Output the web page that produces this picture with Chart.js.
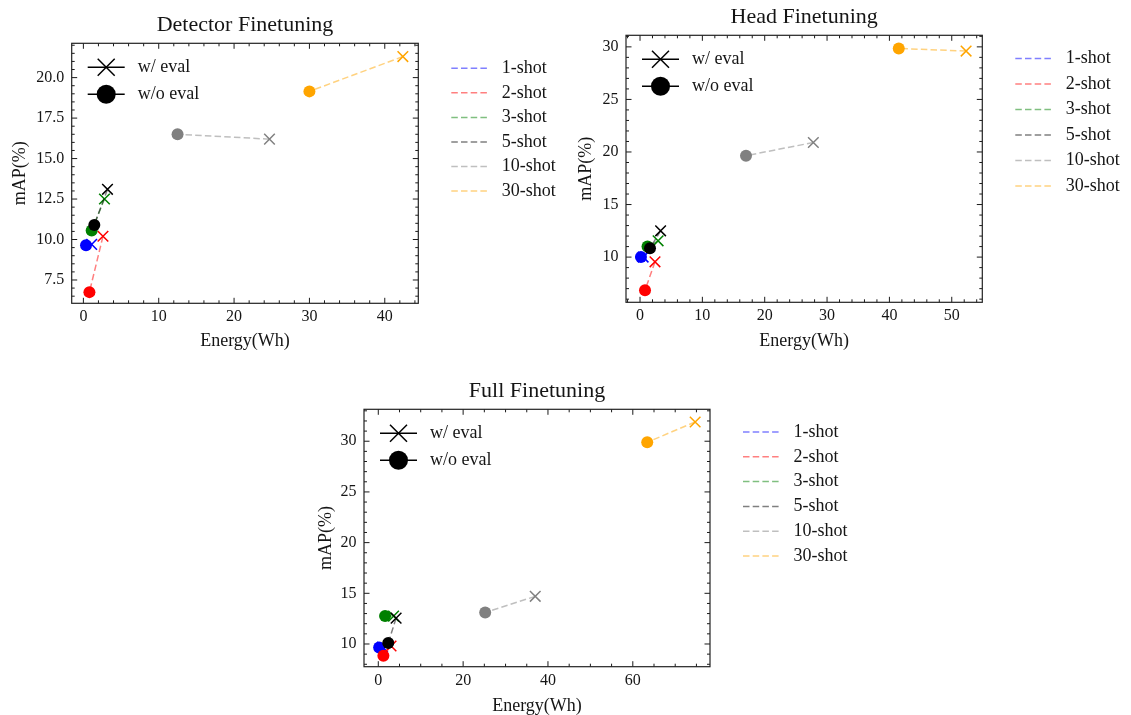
<!DOCTYPE html>
<html>
<head>
<meta charset="utf-8">
<script src="https://cdn.jsdelivr.net/npm/chart.js@4.4.1/dist/chart.umd.min.js"></script>
<style>
  html, body { margin: 0; padding: 0; background: #ffffff; overflow: hidden; width: 1131px; height: 715px; }
  canvas { position: absolute; }
</style>
</head>
<body>
<canvas id="c1" width="570" height="352" style="left:0px;top:0px;"></canvas>
<canvas id="c2" width="565" height="360" style="left:566px;top:-8px;"></canvas>
<canvas id="c3" width="574" height="351" style="left:306px;top:366px;"></canvas>
<script>
// ---------------- data ----------------
const shotLabels = ['1-shot', '2-shot', '3-shot', '5-shot', '10-shot', '30-shot'];
const shotColors = ['#0000ff', '#ff0000', '#008000', '#000000', '#808080', '#ffa500'];
const markerLabels = ['w/ eval', 'w/o eval'];

// Detector Finetuning
const detEvalEnergy   = [1.1, 2.6, 2.8, 3.2, 24.7, 42.4];
const detEvalMap      = [9.7, 10.2, 12.5, 13.1, 16.2, 21.3];
const detNoEvalEnergy = [0.35, 0.8, 1.1, 1.45, 12.5, 30.0];
const detNoEvalMap    = [9.65, 6.75, 10.55, 10.9, 16.5, 19.15];

// Head Finetuning
const headEvalEnergy   = [0.5, 2.4, 2.9, 3.3, 27.8, 52.3];
const headEvalMap      = [10.0, 9.55, 11.55, 12.5, 20.9, 29.6];
const headNoEvalEnergy = [0.15, 0.8, 1.2, 1.6, 17.0, 41.5];
const headNoEvalMap    = [10.0, 6.85, 11.0, 10.85, 19.65, 29.85];

// Full Finetuning
const fullEvalEnergy   = [1.0, 3.0, 3.6, 4.2, 37.0, 74.7];
const fullEvalMap      = [9.7, 9.8, 12.75, 12.55, 14.7, 31.9];
const fullNoEvalEnergy = [0.2, 1.2, 1.6, 2.35, 25.2, 63.4];
const fullNoEvalMap    = [9.65, 8.85, 12.75, 10.1, 13.1, 29.9];

// axis ticks
const detXStep = 10, detYStep = 2.5, detXMinor = 2, detYMinor = 0.5;
const headXStep = 10, headYStep = 5, headXMinor = 2, headYMinor = 1;
const fullXStep = 20, fullYStep = 5, fullXMinor = 5, fullYMinor = 1;

// ---------------- styling ----------------
const FONT = '"Liberation Serif", "Times New Roman", serif';
const TXT = '#151515';
const DASH = [6.5, 3.2];

function withAlpha(hex, a) {
  const r = parseInt(hex.slice(1, 3), 16), g = parseInt(hex.slice(3, 5), 16), b = parseInt(hex.slice(5, 7), 16);
  return `rgba(${r},${g},${b},${a})`;
}

const framePlugin = {
  id: 'frame',
  afterDraw(chart, args, opts) {
    const ctx = chart.ctx;
    const a = chart.chartArea;
    const xs = chart.scales.x, ys = chart.scales.y;
    ctx.save();
    // ticks (inward, all four sides)
    ctx.strokeStyle = '#1a1a1a';
    ctx.lineWidth = 1;
    const minorVals = (scale, step) => {
      const out = [];
      const k0 = Math.ceil(scale.min / step - 1e-9), k1 = Math.floor(scale.max / step + 1e-9);
      for (let k = k0; k <= k1; k++) out.push(+(k * step).toFixed(6));
      return out;
    };
    const majX = xs.ticks.map(t => t.value), majY = ys.ticks.map(t => t.value);
    const drawX = (v, len) => {
      const p = xs.getPixelForValue(v);
      ctx.beginPath();
      ctx.moveTo(p, a.bottom); ctx.lineTo(p, a.bottom - len);
      ctx.moveTo(p, a.top); ctx.lineTo(p, a.top + len);
      ctx.stroke();
    };
    const drawY = (v, len) => {
      const p = ys.getPixelForValue(v);
      ctx.beginPath();
      ctx.moveTo(a.left, p); ctx.lineTo(a.left + len, p);
      ctx.moveTo(a.right, p); ctx.lineTo(a.right - len, p);
      ctx.stroke();
    };
    minorVals(xs, opts.minorX).forEach(v => { if (!majX.some(m => Math.abs(m - v) < 1e-6)) drawX(v, 3); });
    minorVals(ys, opts.minorY).forEach(v => { if (!majY.some(m => Math.abs(m - v) < 1e-6)) drawY(v, 3); });
    majX.forEach(v => drawX(v, 5.5));
    majY.forEach(v => drawY(v, 5.5));
    // frame
    ctx.strokeStyle = '#222222';
    ctx.lineWidth = 1.2;
    ctx.strokeRect(a.left, a.top, a.right - a.left, a.bottom - a.top);

    // inner legend (markers)
    const lx = a.left + 16;
    const rows = [a.top + 24, a.top + 51];
    ctx.strokeStyle = '#000';
    ctx.fillStyle = '#000';
    ctx.lineWidth = 1.5;
    rows.forEach((ry, i) => {
      ctx.beginPath(); ctx.moveTo(lx, ry); ctx.lineTo(lx + 37, ry); ctx.stroke();
      const cx = lx + 18.5;
      if (i === 0) {
        const h = 8.5;
        ctx.beginPath();
        ctx.moveTo(cx - h, ry - h); ctx.lineTo(cx + h, ry + h);
        ctx.moveTo(cx - h, ry + h); ctx.lineTo(cx + h, ry - h);
        ctx.stroke();
      } else {
        ctx.beginPath(); ctx.arc(cx, ry, 9.5, 0, Math.PI * 2); ctx.fill();
      }
    });
    ctx.fillStyle = TXT;
    ctx.font = '18px ' + FONT;
    ctx.textBaseline = 'middle';
    ctx.textAlign = 'left';
    rows.forEach((ry, i) => ctx.fillText(markerLabels[i], a.left + 66, ry));

    // outer legend (shots)
    const ox = a.right + 33;
    shotLabels.forEach((s, i) => {
      const yy = a.top + opts.legendFirst + i * opts.legendGap;
      ctx.strokeStyle = withAlpha(shotColors[i], 0.5);
      ctx.lineWidth = 1.5;
      ctx.setLineDash(DASH);
      ctx.beginPath(); ctx.moveTo(ox, yy); ctx.lineTo(ox + 36, yy); ctx.stroke();
      ctx.setLineDash([]);
      ctx.fillStyle = TXT;
      ctx.fillText(s, ox + 50.5, yy);
    });
    ctx.restore();
  }
};

function makeChart(id, p) {
  const datasets = shotLabels.map((s, i) => ({
    label: s,
    data: [{ x: p.evalX[i], y: p.evalY[i] }, { x: p.noEvalX[i], y: p.noEvalY[i] }],
    showLine: true,
    borderColor: withAlpha(shotColors[i], 0.5),
    borderWidth: 1.5,
    borderDash: DASH,
    pointStyle: ['crossRot', 'circle'],
    pointRadius: [7.5, 6],
    pointBorderWidth: [1.5, 0],
    pointBorderColor: shotColors[i],
    pointBackgroundColor: shotColors[i],
    order: -i
  }));
  const tickFont = { family: FONT, size: 16 };
  const labelFont = { family: FONT, size: 18 };
  return new Chart(document.getElementById(id), {
    type: 'scatter',
    data: { datasets },
    options: {
      responsive: false,
      animation: false,
      events: [],
      layout: { padding: { left: 0, top: 0, right: p.padRight, bottom: 0 } },
      plugins: {
        legend: { display: false },
        tooltip: { enabled: false },
        title: {
          display: true, text: p.title, color: TXT, fullSize: false,
          font: { family: FONT, size: 22, weight: 'normal', lineHeight: 1.2 },
          padding: { top: 12.4, bottom: 4.5 }
        },
        frame: { minorX: p.minorX, minorY: p.minorY, legendFirst: p.legendFirst, legendGap: p.legendGap }
      },
      scales: {
        x: {
          type: 'linear', min: p.xMin, max: p.xMax,
          grid: { display: false, drawTicks: false }, border: { display: false },
          ticks: { stepSize: p.xStep, includeBounds: false, padding: 4, font: tickFont, color: TXT, maxRotation: 0, autoSkip: false },
          title: { display: true, text: 'Energy(Wh)', font: labelFont, color: TXT, padding: { top: 0, bottom: 0 } },
          afterFit: s => { s.height = p.xAxisH; }
        },
        y: {
          type: 'linear', min: p.yMin, max: p.yMax,
          grid: { display: false, drawTicks: false }, border: { display: false },
          ticks: { stepSize: p.yStep, includeBounds: false, padding: 7.5, font: tickFont, color: TXT, autoSkip: false,
                   callback: v => p.yDec ? Number(v).toFixed(p.yDec) : String(v) },
          title: { display: true, text: 'mAP(%)', font: labelFont, color: TXT, padding: { top: 9, bottom: 0 } },
          afterFit: s => { s.width = p.yAxisW; }
        }
      }
    },
    plugins: [framePlugin]
  });
}

makeChart('c1', {
  title: 'Detector Finetuning',
  evalX: detEvalEnergy, evalY: detEvalMap, noEvalX: detNoEvalEnergy, noEvalY: detNoEvalMap,
  xMin: -1.55, xMax: 44.45, yMin: 6.06, yMax: 22.12,
  xStep: detXStep, yStep: detYStep, minorX: detXMinor, minorY: detYMinor, yDec: 1,
  padRight: 151.7, yAxisW: 71.7, xAxisH: 48.7, legendFirst: 25, legendGap: 24.55
});
makeChart('c2', {
  title: 'Head Finetuning',
  evalX: headEvalEnergy, evalY: headEvalMap, noEvalX: headNoEvalEnergy, noEvalY: headNoEvalMap,
  xMin: -2.25, xMax: 54.9, yMin: 5.7, yMax: 31.1,
  xStep: headXStep, yStep: headYStep, minorX: headXMinor, minorY: headYMinor, yDec: 0,
  padRight: 148.7, yAxisW: 60, xAxisH: 49.7, legendFirst: 23.3, legendGap: 25.5
});
makeChart('c3', {
  title: 'Full Finetuning',
  evalX: fullEvalEnergy, evalY: fullEvalMap, noEvalX: fullNoEvalEnergy, noEvalY: fullNoEvalMap,
  xMin: -3.37, xMax: 78.2, yMin: 7.76, yMax: 33.15,
  xStep: fullXStep, yStep: fullYStep, minorX: fullXMinor, minorY: fullYMinor, yDec: 0,
  padRight: 170, yAxisW: 58, xAxisH: 50.3, legendFirst: 22.7, legendGap: 24.8
});
</script>
</body>
</html>
